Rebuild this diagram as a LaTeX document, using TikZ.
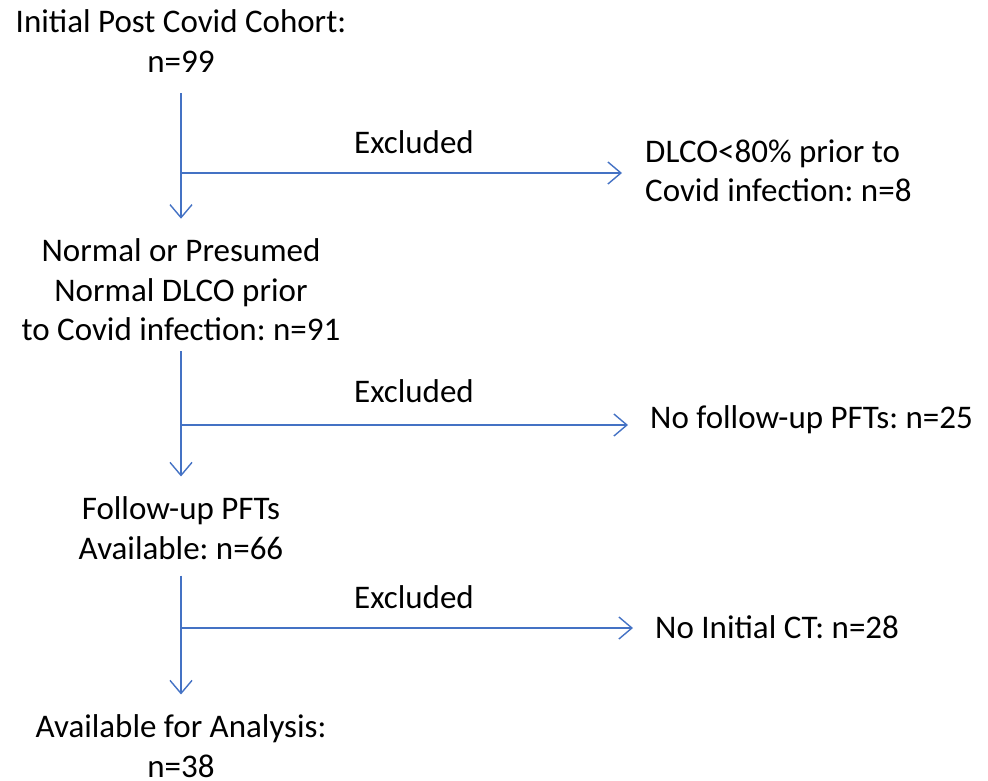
\documentclass[tikz,border=0pt]{standalone}
\usepackage{fontspec}
\setmainfont{Carlito}
\usetikzlibrary{arrows.meta}
\definecolor{lineblue}{HTML}{4472C4}
\frenchspacing
\begin{document}
\begin{tikzpicture}[x=1pt,y=-1pt,
  txt/.style={inner sep=0pt, align=center, font=\fontsize{33}{39.5}\selectfont},
  ltxt/.style={inner sep=0pt, align=left, anchor=west, font=\fontsize{33}{39.5}\selectfont},
  arr/.style={draw=lineblue, line width=1.4pt, -{Straight Barb[length=13pt,width=22pt,line width=1.4pt]}},
  ln/.style={draw=lineblue, line width=1.4pt}]
\useasboundingbox (0,0) rectangle (988,780);
\node[txt] (n1) at (181,41) {Initial Post Covid Cohort:\\n=99};
\node[txt] (n2) at (181,290) {Normal or Presumed\\Normal DLCO prior\\to Covid infection: n=91};
\node[txt] (n3) at (181,528) {Follow-up PFTs\\Available: n=66};
\node[txt] (n4) at (181,746) {Available for Analysis:\\n=38};
\node[ltxt] (x1) at (645,171) {DLCO<80\% prior to\\Covid infection: n=8};
\node[ltxt] (x2) at (650,420) {No follow-up PFTs: n=25};
\node[ltxt] (x3) at (655,627) {No Initial CT: n=28};
\node[txt] (e1) at (414,142) {Excluded};
\node[txt] (e2) at (414,391) {Excluded};
\node[txt] (e3) at (414,597) {Excluded};
\coordinate (j1) at (181,173);
\coordinate (j2) at (181,425);
\coordinate (j3) at (181,628);
\draw[arr, shorten <=21pt, shorten >=20pt] (n1.south) -- (n2.north);
\draw[arr, shorten <=10pt, shorten >=20pt] (n2.south) -- (n3.north);
\draw[arr, shorten <=16pt, shorten >=20pt] (n3.south) -- (n4.north);
\draw[arr] (j1) -- ([xshift=-23pt]x1.west |- j1);
\draw[arr] (j2) -- ([xshift=-22pt]x2.west |- j2);
\draw[arr] (j3) -- ([xshift=-22pt]x3.west |- j3);
\end{tikzpicture}
\end{document}
